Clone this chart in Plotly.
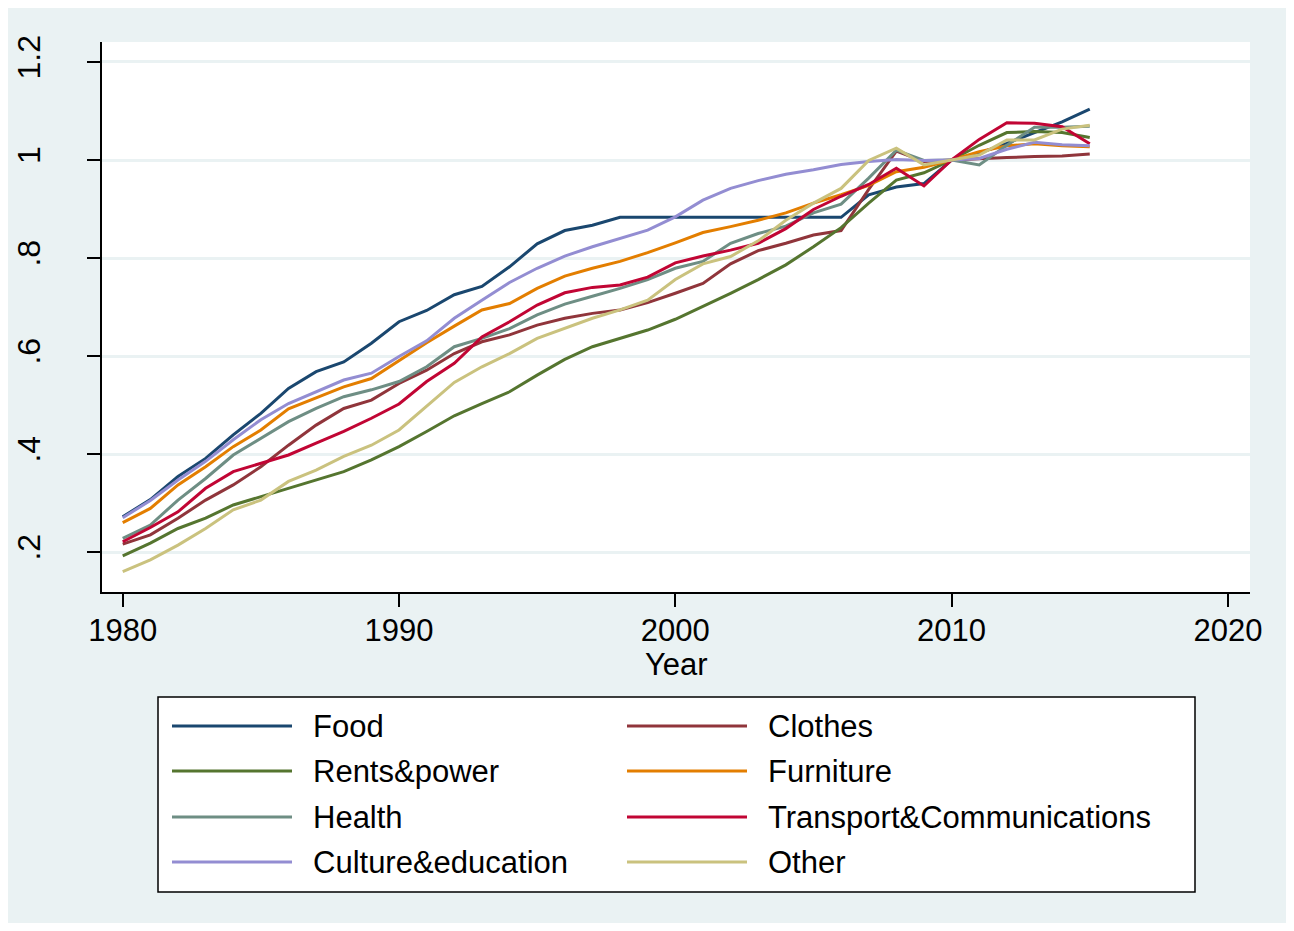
import plotly.graph_objects as go

years = list(range(1980, 2016))

food = [0.272, 0.307, 0.354, 0.391, 0.439, 0.483, 0.534, 0.568, 0.588, 0.626,
        0.670, 0.693, 0.725, 0.742, 0.782, 0.829, 0.856, 0.867, 0.883, 0.883,
        0.883, 0.883, 0.883, 0.883, 0.883, 0.883, 0.883, 0.929, 0.945, 0.952,
        1.000, 1.014, 1.034, 1.056, 1.078, 1.104]
clothes = [0.216, 0.235, 0.269, 0.306, 0.337, 0.374, 0.418, 0.459, 0.493, 0.510,
           0.544, 0.571, 0.605, 0.629, 0.643, 0.663, 0.677, 0.687, 0.694, 0.709,
           0.728, 0.748, 0.788, 0.815, 0.830, 0.847, 0.856, 0.940, 1.018, 0.997,
           1.000, 1.003, 1.005, 1.007, 1.008, 1.012]
rents = [0.192, 0.218, 0.248, 0.269, 0.296, 0.313, 0.330, 0.347, 0.364, 0.388,
         0.415, 0.446, 0.478, 0.503, 0.527, 0.561, 0.593, 0.619, 0.636, 0.653,
         0.675, 0.701, 0.728, 0.756, 0.786, 0.823, 0.862, 0.912, 0.959, 0.974,
         1.000, 1.030, 1.056, 1.058, 1.056, 1.046]
furniture = [0.260, 0.289, 0.337, 0.374, 0.415, 0.449, 0.492, 0.514, 0.537, 0.554,
             0.590, 0.627, 0.661, 0.694, 0.707, 0.738, 0.763, 0.779, 0.793, 0.811,
             0.831, 0.852, 0.864, 0.877, 0.892, 0.912, 0.929, 0.948, 0.976, 0.985,
             1.000, 1.017, 1.029, 1.033, 1.029, 1.027]
health = [0.228, 0.255, 0.306, 0.350, 0.398, 0.432, 0.466, 0.493, 0.517, 0.531,
          0.548, 0.578, 0.619, 0.636, 0.656, 0.684, 0.706, 0.722, 0.738, 0.756,
          0.779, 0.793, 0.830, 0.850, 0.865, 0.892, 0.910, 0.963, 1.020, 0.999,
          1.000, 0.990, 1.030, 1.067, 1.067, 1.069]
transport = [0.221, 0.250, 0.282, 0.330, 0.364, 0.381, 0.398, 0.422, 0.446, 0.473,
             0.502, 0.548, 0.585, 0.639, 0.670, 0.704, 0.729, 0.740, 0.745, 0.761,
             0.790, 0.804, 0.816, 0.830, 0.860, 0.899, 0.926, 0.950, 0.983, 0.947,
             1.000, 1.042, 1.076, 1.075, 1.068, 1.033]
culture = [0.270, 0.305, 0.347, 0.385, 0.429, 0.470, 0.503, 0.527, 0.551, 0.565,
           0.599, 0.631, 0.677, 0.714, 0.750, 0.779, 0.804, 0.823, 0.840, 0.857,
           0.884, 0.918, 0.942, 0.958, 0.971, 0.980, 0.991, 0.997, 1.001, 0.999,
           1.000, 1.003, 1.022, 1.036, 1.031, 1.029]
other = [0.160, 0.184, 0.214, 0.248, 0.286, 0.306, 0.344, 0.367, 0.395, 0.418,
         0.449, 0.497, 0.546, 0.578, 0.605, 0.636, 0.657, 0.677, 0.694, 0.714,
         0.756, 0.788, 0.803, 0.835, 0.877, 0.912, 0.942, 0.999, 1.024, 0.990,
         1.000, 1.010, 1.041, 1.041, 1.063, 1.071]

series_names = ["Food", "Clothes", "Rents&power", "Furniture", "Health",
                "Transport&Communications", "Culture&education", "Other"]
series_values = [food, clothes, rents, furniture, health, transport, culture, other]
series_colors = ["#1A476F", "#90353B", "#55752F", "#E37E00", "#6E8E84",
                 "#C10534", "#938DD2", "#CAC27E"]

x_ticks = [1980, 1990, 2000, 2010, 2020]
y_ticks = [0.2, 0.4, 0.6, 0.8, 1.0, 1.2]
y_ticktext = [".2", ".4", ".6", ".8", "1", "1.2"]
x_title = "Year"

# page has an 8px body margin; figure coordinates = screen - 8
OFF = 8
W, H = 1278, 915
L, R, T, B = 102 - OFF, 1250 - OFF, 42 - OFF, 592 - OFF
FONT = "Liberation Sans, Arial, sans-serif"
BG = "#EAF2F3"


def px_x(px):
    return (px - OFF - L) / (R - L)


def px_y(py):
    return (B - (py - OFF)) / (B - T)


fig = go.Figure()
for name, vals, col in zip(series_names, series_values, series_colors):
    fig.add_trace(go.Scatter(x=years, y=vals, mode="lines", name=name,
                             line=dict(color=col, width=3), showlegend=False))

shapes = []
annotations = []

# legend box (screen pixel coordinates converted to paper)
shapes.append(dict(type="rect", xref="paper", yref="paper",
                   x0=px_x(158), x1=px_x(1195), y0=px_y(892), y1=px_y(697),
                   fillcolor="white", line=dict(color="black", width=1.5)))
row_y = [726, 771, 817, 862]
col_line = [(172, 292), (627, 747)]
col_text = [311, 766]
for i, (name, col) in enumerate(zip(series_names, series_colors)):
    c, r = i % 2, i // 2
    shapes.append(dict(type="line", xref="paper", yref="paper",
                       x0=px_x(col_line[c][0]), x1=px_x(col_line[c][1]),
                       y0=px_y(row_y[r]), y1=px_y(row_y[r]),
                       line=dict(color=col, width=3)))
    annotations.append(dict(xref="paper", yref="paper", x=px_x(col_text[c]),
                            y=px_y(row_y[r]), text=name, showarrow=False,
                            xanchor="left", yanchor="middle",
                            font=dict(family=FONT, size=31, color="black")))

# x axis title
annotations.append(dict(xref="paper", yref="paper", x=0.5, y=px_y(664),
                        text=x_title, showarrow=False, xanchor="center",
                        yanchor="middle",
                        font=dict(family=FONT, size=31, color="black")))

fig.update_layout(
    width=W, height=H, autosize=False,
    margin=dict(l=L, r=W - R, t=T, b=H - B, pad=0),
    paper_bgcolor=BG, plot_bgcolor="white",
    font=dict(family=FONT, size=32, color="black"),
    shapes=shapes, annotations=annotations,
    xaxis=dict(range=[1979.25, 2020.80], tickvals=x_ticks,
               ticktext=[str(v) for v in x_ticks], automargin=False,
               showgrid=False, zeroline=False, showline=True,
               linecolor="black", linewidth=1.5, ticks="outside", ticklen=13,
               tickwidth=1.5, tickcolor="black", ticklabelstandoff=-3,
               tickfont=dict(family=FONT, size=31, color="black")),
    yaxis=dict(range=[0.1184, 1.2408], tickvals=y_ticks, ticktext=y_ticktext,
               automargin=False,
               showgrid=True, gridcolor=BG, gridwidth=2.5, zeroline=False,
               showline=True, linecolor="black", linewidth=1.5,
               ticks="outside", ticklen=13, tickwidth=1.5, tickcolor="black",
               tickangle=-90, ticklabelstandoff=34,
               tickfont=dict(family=FONT, size=32, color="black")),
)

fig.write_html("out.html")
